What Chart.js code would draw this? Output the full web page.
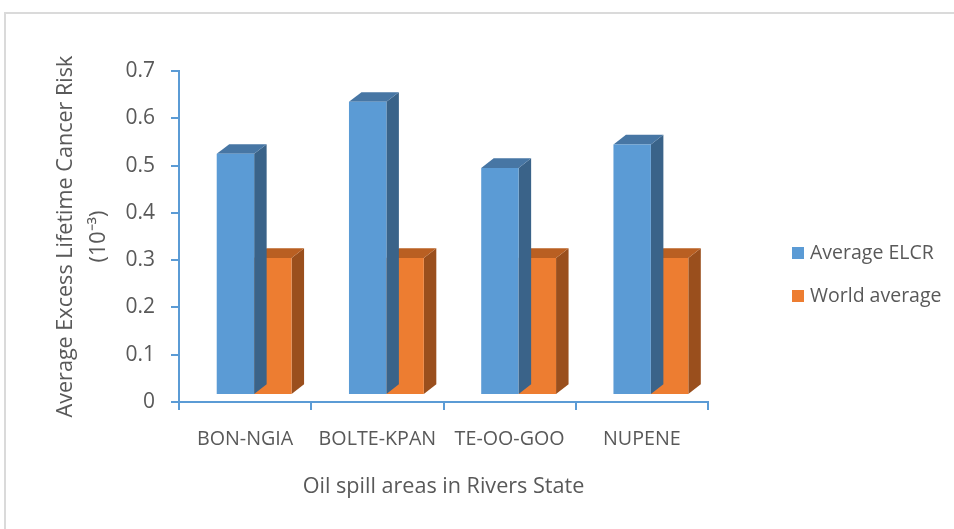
<!DOCTYPE html>
<html lang="en">
<head>
<meta charset="UTF-8" />
<title>Average ELCR by oil spill area</title>
<script src="https://cdn.jsdelivr.net/npm/chart.js"></script>
<style>
  html, body { margin: 0; padding: 0; background: #fff; overflow: hidden; }
  .frame {
    position: absolute; left: 4px; top: 12px;
    width: 1200px; height: 800px;
    border-left: 2px solid #dadada; border-top: 2px solid #dadada;
  }
  #chart { position: absolute; left: 0; top: 0; }
</style>
</head>
<body>
<div class="frame"></div>
<canvas id="chart" width="954" height="529"></canvas>
<script>
  const areas = ['BON-NGIA', 'BOLTE-KPAN', 'TE-OO-GOO', 'NUPENE'];
  const averageElcr = [0.51, 0.62, 0.48, 0.53];
  const worldAverage = [0.29, 0.29, 0.29, 0.29];
  const yMax = 0.7;
  const yStep = 0.1;

  const textGray = '#595959';
  const axisBlue = '#5b9bd5';
  const font = 'Open Sans';

  // oblique 3D look: columns sit half-way into the floor and recede up-right
  const shift = { x: 9, y: -7 };
  const depth = { x: 12.5, y: -9.7 };
  const shades = [
    { top: '#4776a4', side: '#3a6389' },
    { top: '#b95f22', side: '#9a4f1d' }
  ];

  const columns3d = {
    id: 'columns3d',
    beforeDatasetDraw(chart, args) {
      const ctx = chart.ctx;
      const shade = shades[args.index];
      ctx.save();
      ctx.translate(shift.x, shift.y);
      args.meta.data.forEach(bar => {
        const { x, y, base, width } = bar.getProps(['x', 'y', 'base', 'width'], true);
        const l = x - width / 2;
        const r = x + width / 2;
        // right side face
        ctx.fillStyle = shade.side;
        ctx.beginPath();
        ctx.moveTo(r, y);
        ctx.lineTo(r + depth.x, y + depth.y);
        ctx.lineTo(r + depth.x, base + depth.y);
        ctx.lineTo(r, base);
        ctx.closePath();
        ctx.fill();
        // top face
        ctx.fillStyle = shade.top;
        ctx.beginPath();
        ctx.moveTo(l, y);
        ctx.lineTo(l + depth.x, y + depth.y);
        ctx.lineTo(r + depth.x, y + depth.y);
        ctx.lineTo(r, y);
        ctx.closePath();
        ctx.fill();
      });
    },
    afterDatasetDraw(chart) {
      chart.ctx.restore();
    }
  };

  // legend sits well to the right of the plot, so it is drawn by hand
  const sideLegend = {
    id: 'sideLegend',
    afterDraw(chart, args, opts) {
      const ctx = chart.ctx;
      ctx.save();
      ctx.font = opts.size + 'px "' + font + '"';
      ctx.textBaseline = 'middle';
      ctx.textAlign = 'left';
      chart.data.datasets.forEach((ds, i) => {
        const y = opts.y + i * opts.gap;
        ctx.fillStyle = ds.backgroundColor;
        ctx.fillRect(opts.x, y - opts.box / 2, opts.box, opts.box);
        ctx.fillStyle = textGray;
        ctx.fillText(ds.label, opts.x + opts.box + 6, y);
      });
      ctx.restore();
    }
  };

  Chart.defaults.font.family = font;
  Chart.defaults.color = textGray;

  new Chart(document.getElementById('chart'), {
    type: 'bar',
    data: {
      labels: areas,
      datasets: [
        {
          label: 'Average ELCR',
          data: averageElcr,
          backgroundColor: '#5b9bd5',
          borderWidth: 0,
          clip: false
        },
        {
          label: 'World average',
          data: worldAverage,
          backgroundColor: '#ed7d31',
          borderWidth: 0,
          clip: false
        }
      ]
    },
    options: {
      responsive: false,
      animation: false,
      devicePixelRatio: 1,
      categoryPercentage: 0.566,
      barPercentage: 1,
      layout: { padding: { top: 71, left: 49, right: 246, bottom: 0 } },
      scales: {
        x: {
          grid: {
            drawOnChartArea: false, drawTicks: true, tickLength: 8,
            color: axisBlue, lineWidth: 2, offset: true
          },
          border: { color: axisBlue, width: 2 },
          ticks: { color: textGray, font: { size: 19.7 }, padding: 17.2 },
          title: {
            display: true,
            text: 'Oil spill areas in Rivers State',
            color: textGray,
            font: { size: 21.6 },
            padding: { top: 6, bottom: 29 }
          }
        },
        y: {
          min: 0,
          max: yMax,
          grid: {
            drawOnChartArea: false, drawTicks: true, tickLength: 8,
            color: axisBlue, lineWidth: 2
          },
          border: { color: axisBlue, width: 2 },
          ticks: {
            stepSize: yStep,
            color: textGray,
            font: { size: 21 },
            padding: 16,
            callback: v => (v === 0 ? '0' : v.toFixed(1))
          },
          title: {
            display: true,
            text: ['Average Excess Lifetime Cancer Risk', '(10\u207B\u00B3)'],
            color: textGray,
            font: { size: 21.6, lineHeight: 1.53 },
            padding: { top: 0, bottom: -5.6 }
          }
        }
      },
      plugins: {
        legend: { display: false },
        tooltip: { enabled: false },
        sideLegend: { x: 792, y: 253, gap: 43, box: 12, size: 19.5 }
      }
    },
    plugins: [columns3d, sideLegend]
  });
</script>
</body>
</html>
